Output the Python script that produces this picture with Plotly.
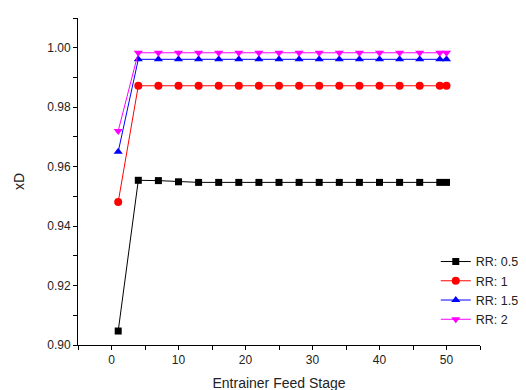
import plotly.graph_objects as go

stages = [1, 4, 7, 10, 13, 16, 19, 22, 25, 28, 31, 34, 37, 40, 43, 46, 49, 50]
rr_05 = [0.9047, 0.9554, 0.9553, 0.9549, 0.9547, 0.9547, 0.9547, 0.9547, 0.9547,
         0.9547, 0.9547, 0.9547, 0.9547, 0.9547, 0.9547, 0.9547, 0.9547, 0.9547]
rr_1 = [0.9481] + [0.9872] * 17
rr_15 = [0.9650] + [0.9961] * 17
rr_2 = [0.9720] + [0.9983] * 17

series = [
    ("RR: 0.5", rr_05, "#000000", "square", 7),
    ("RR: 1", rr_1, "#ff0000", "circle", 8),
    ("RR: 1.5", rr_15, "#0000ff", "triangle-up", 8),
    ("RR: 2", rr_2, "#ff00ff", "triangle-down", 8),
]

fig = go.Figure()
for name, vals, col, sym, sz in series:
    fig.add_trace(go.Scatter(
        x=stages, y=vals, name=name, mode="lines+markers",
        line=dict(color=col, width=1),
        marker=dict(symbol=sym, size=sz, color=col),
    ))

axis_common = dict(
    showline=True, linecolor="black", linewidth=1,
    ticks="outside", ticklen=4, tickwidth=1, tickcolor="black",
    showgrid=False, zeroline=False, mirror=False,
    tickfont=dict(family="Liberation Sans, Arial", size=12, color="#222"),
)

fig.update_layout(
    width=526, height=390,
    margin=dict(l=68, r=50, t=10, b=49),
    paper_bgcolor="white", plot_bgcolor="white",
    font=dict(family="Liberation Sans, Arial", size=12, color="#222"),
    xaxis=dict(range=[-5, 55], dtick=10, tick0=0,
               minor=dict(ticks="outside", ticklen=4, dtick=5, tickcolor="black"),
               title=dict(text="Entrainer Feed Stage", font=dict(size=14), standoff=11),
               **axis_common),
    yaxis=dict(range=[0.90, 1.01], dtick=0.02, tick0=0.90, tickformat=".2f",
               minor=dict(ticks="outside", ticklen=4, dtick=0.01, tickcolor="black"),
               title=dict(text="xD", font=dict(size=14), standoff=19),
               **axis_common),
    legend=dict(x=0.89, y=0.30, xanchor="left", yanchor="top",
                bgcolor="rgba(0,0,0,0)", font=dict(size=12.5),
                tracegroupgap=0, itemsizing="trace"),
)

fig.write_html("out.html")
